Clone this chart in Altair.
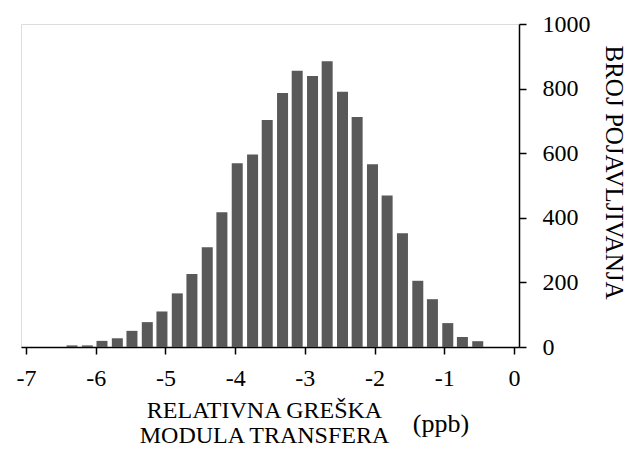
import altair as alt
import pandas as pd

# bin centers (ppb) and counts
bin_center = [-6.34, -6.12, -5.91, -5.69, -5.48, -5.26, -5.05, -4.83, -4.62, -4.40,
              -4.19, -3.97, -3.75, -3.54, -3.32, -3.11, -2.89, -2.68, -2.46, -2.25,
              -2.03, -1.82, -1.60, -1.38, -1.17, -0.95, -0.74, -0.52]
counts = [5, 5, 19, 27, 50, 77, 110, 166, 226, 309,
          417, 569, 596, 703, 786, 855, 839, 885, 790, 712,
          566, 469, 352, 205, 148, 74, 31, 18]
x_ticks = [-7, -6, -5, -4, -3, -2, -1, 0]
y_ticks = [0, 200, 400, 600, 800, 1000]
x_title = ["RELATIVNA GREŠKA", "MODULA TRANSFERA"]
unit_label = ["(ppb)"]
y_title = "BROJ POJAVLJIVANJA"

df = pd.DataFrame({"x": bin_center, "n": counts})
FONT = "Liberation Serif"

bars = alt.Chart(df).mark_bar(size=11, color="#595959").encode(
    x=alt.X("x:Q",
            scale=alt.Scale(domain=[-7, 0], nice=False, zero=False),
            axis=alt.Axis(values=x_ticks, labelExpr="datum.value + ''",
                          grid=False, domainColor="black", domainWidth=1.5,
                          tickColor="black", tickWidth=1.5, tickSize=7,
                          labelFont=FONT, labelFontSize=24, labelColor="black",
                          labelPadding=12,
                          title=x_title, titleFont=FONT, titleFontSize=24,
                          titleFontWeight="normal", titleColor="black",
                          titleX=243, titleY=70, titleBaseline="alphabetic",
                          titleAlign="center", titleLineHeight=25)),
    y=alt.Y("n:Q",
            scale=alt.Scale(domain=[0, 1000], nice=False),
            axis=alt.Axis(orient="right", values=y_ticks, labelExpr="datum.value + ''",
                          grid=False,
                          domainColor="black", domainWidth=1.5,
                          tickColor="black", tickWidth=1.5, tickSize=7,
                          labelFont=FONT, labelFontSize=24, labelColor="black",
                          labelAlign="left", labelBaseline="middle", labelPadding=16,
                          title=y_title, titleFont=FONT, titleFontSize=25,
                          titleFontWeight="normal", titleColor="black",
                          titleAngle=90, titleX=86, titleY=148,
                          titleAlign="center", titleBaseline="alphabetic")),
)

ppb = alt.Chart(pd.DataFrame({"t": unit_label})).mark_text(
    font=FONT, fontSize=26, color="black", align="center", baseline="alphabetic"
).encode(
    text="t:N",
    x=alt.value(420),
    y=alt.value(408),
)

chart = alt.layer(bars, ppb).properties(
    width=498, height=323,
    padding={"left": 13, "top": 16, "right": 109, "bottom": 100},
    autosize=alt.AutoSizeParams(type="none"),
).configure_view(stroke=None).configure(background="white")

chart.save("out.html", embed_options={"renderer": "svg", "actions": False})
